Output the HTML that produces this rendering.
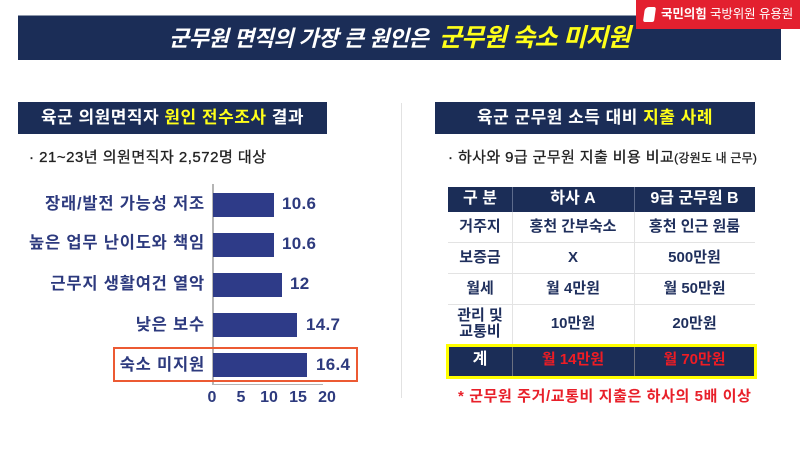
<!DOCTYPE html>
<html><head><meta charset="utf-8">
<style>
*{margin:0;padding:0;box-sizing:border-box;}
body{width:800px;height:450px;background:#fff;position:relative;overflow:hidden;font-family:"Liberation Sans","Noto Sans CJK KR",sans-serif;font-weight:bold;}
.a{position:absolute;white-space:nowrap;}
.navy{background:#1b2d57;}
.y{color:#ffff1a;}
.lab{position:absolute;right:595px;font-size:16.5px;color:#2d3a7e;line-height:20px;text-align:right;white-space:nowrap;letter-spacing:0.8px;}
.bar{position:absolute;left:213px;height:24px;background:#2e3b88;}
.val{position:absolute;font-size:17px;color:#2d3a7e;line-height:20px;font-family:"Liberation Sans",sans-serif;letter-spacing:0.3px;}
.tick{position:absolute;top:389px;font-size:16px;color:#2d3a7e;width:30px;text-align:center;line-height:18px;font-family:"Liberation Sans",sans-serif;}
.cell{position:absolute;text-align:center;font-size:15px;color:#1f2f5c;line-height:18px;white-space:nowrap;}
.hl{position:absolute;height:1px;background:#e3e3e3;left:448px;width:307px;}
.vl{position:absolute;width:1px;background:#e3e3e3;}
</style></head><body>

<!-- top banner -->
<div class="a navy" style="left:18px;top:15px;width:763px;height:45px;border-top:1px solid #8d97aa;"></div>
<div class="a" style="left:0;top:24px;width:800px;line-height:30px;font-style:italic;">
<span style="position:absolute;left:169px;top:0;font-size:22px;color:#fff;letter-spacing:-0.5px;">군무원 면직의 가장 큰 원인은</span>
<span style="position:absolute;left:439px;top:-1px;font-size:25px;letter-spacing:-0.7px;" class="y">군무원 숙소 미지원</span>
</div>

<!-- red badge -->
<div class="a" style="left:636px;top:0;width:164px;height:29px;background:#e3202f;"></div>
<div class="a" style="left:644px;top:7px;width:11px;height:15px;background:#fff;border-radius:4px 2px 2px 2px;transform:skewX(-8deg);"></div>
<div class="a" style="left:661px;top:6px;font-size:12.5px;color:#fff;line-height:16px;letter-spacing:-0.1px;">국민의힘 <span style="font-weight:normal;">국방위원 유용원</span></div>

<!-- left panel -->
<div class="a navy" style="left:18px;top:102px;width:309px;height:32px;"></div>
<div class="a" style="left:18px;top:107px;width:309px;text-align:center;font-size:17px;color:#fff;line-height:22px;letter-spacing:0.5px;">육군 의원면직자 <span class="y">원인 전수조사</span> 결과</div>
<div class="a" style="left:29px;top:149px;font-size:15px;color:#222;line-height:18px;font-weight:normal;-webkit-text-stroke:0.3px #222;letter-spacing:0.5px;">· 21~23년 의원면직자 2,572명 대상</div>

<!-- chart -->
<div class="a" style="left:212px;top:184px;width:1.5px;height:201px;background:#b5b5b5;"></div>
<div class="a" style="left:212px;top:383.5px;width:111px;height:1.5px;background:#b5b5b5;"></div>

<div class="lab" style="top:194px;">장래/발전 가능성 저조</div>
<div class="lab" style="top:233px;">높은 업무 난이도와 책임</div>
<div class="lab" style="top:274px;">근무지 생활여건 열악</div>
<div class="lab" style="top:315px;">낮은 보수</div>
<div class="lab" style="top:355px;">숙소 미지원</div>

<div class="bar" style="top:193px;width:61px;"></div>
<div class="bar" style="top:233px;width:61px;"></div>
<div class="bar" style="top:273px;width:69px;"></div>
<div class="bar" style="top:313px;width:84px;"></div>
<div class="bar" style="top:353px;width:94px;"></div>

<div class="val" style="left:282px;top:194px;">10.6</div>
<div class="val" style="left:282px;top:234px;">10.6</div>
<div class="val" style="left:290px;top:274px;">12</div>
<div class="val" style="left:306px;top:315px;">14.7</div>
<div class="val" style="left:316px;top:355px;">16.4</div>

<div class="a" style="left:113px;top:347px;width:245px;height:35px;border:2px solid #ec5a33;"></div>

<div class="tick" style="left:197px;">0</div>
<div class="tick" style="left:226px;">5</div>
<div class="tick" style="left:254px;">10</div>
<div class="tick" style="left:283px;">15</div>
<div class="tick" style="left:312px;">20</div>

<!-- divider -->
<div class="a" style="left:401px;top:103px;width:1px;height:295px;background:#e2e2e2;"></div>

<!-- right panel -->
<div class="a navy" style="left:435px;top:102px;width:320px;height:32px;"></div>
<div class="a" style="left:435px;top:107px;width:320px;text-align:center;font-size:17px;color:#fff;line-height:22px;letter-spacing:0.5px;">육군 군무원 소득 대비 <span class="y">지출 사례</span></div>
<div class="a" style="left:448px;top:149px;font-size:15px;color:#222;line-height:18px;font-weight:normal;-webkit-text-stroke:0.3px #222;letter-spacing:0.4px;">· 하사와 9급 군무원 지출 비용 비교<span style="font-size:12px;letter-spacing:0.2px;">(강원도 내 근무)</span></div>

<!-- table header -->
<div class="a navy" style="left:448px;top:187px;width:307px;height:25px;"></div>
<div class="a" style="left:512px;top:187px;width:1px;height:25px;background:#5d6b8c;"></div>
<div class="a" style="left:634px;top:187px;width:1px;height:25px;background:#5d6b8c;"></div>
<div class="cell" style="left:448px;top:190px;width:64px;color:#fff;font-size:16px;">구 분</div>
<div class="cell" style="left:512px;top:190px;width:122px;color:#fff;font-size:16px;">하사 A</div>
<div class="cell" style="left:634px;top:190px;width:121px;color:#fff;font-size:16px;">9급 군무원 B</div>

<!-- body lines -->
<div class="vl" style="left:512px;top:212px;height:132px;"></div>
<div class="vl" style="left:634px;top:212px;height:132px;"></div>
<div class="hl" style="top:242px;"></div>
<div class="hl" style="top:273px;"></div>
<div class="hl" style="top:304px;"></div>

<div class="cell" style="left:448px;top:218px;width:64px;">거주지</div>
<div class="cell" style="left:512px;top:218px;width:122px;">홍천 간부숙소</div>
<div class="cell" style="left:634px;top:218px;width:121px;">홍천 인근 원룸</div>

<div class="cell" style="left:448px;top:249px;width:64px;">보증금</div>
<div class="cell" style="left:512px;top:249px;width:122px;">X</div>
<div class="cell" style="left:634px;top:249px;width:121px;">500만원</div>

<div class="cell" style="left:448px;top:280px;width:64px;">월세</div>
<div class="cell" style="left:512px;top:280px;width:122px;">월 4만원</div>
<div class="cell" style="left:634px;top:280px;width:121px;">월 50만원</div>

<div class="cell" style="left:448px;top:308px;width:64px;line-height:16px;">관리 및<br>교통비</div>
<div class="cell" style="left:512px;top:315px;width:122px;">10만원</div>
<div class="cell" style="left:634px;top:315px;width:121px;">20만원</div>

<!-- total row -->
<div class="a navy" style="left:446px;top:344px;width:311px;height:35px;border:3px solid #ffff00;"></div>
<div class="a" style="left:512px;top:347px;width:1px;height:29px;background:#6b7080;"></div>
<div class="a" style="left:634px;top:347px;width:1px;height:29px;background:#6b7080;"></div>
<div class="cell" style="left:448px;top:351px;width:64px;color:#fff;font-size:16px;">계</div>
<div class="cell" style="left:512px;top:351px;width:122px;color:#ee1c24;font-size:15px;">월 14만원</div>
<div class="cell" style="left:634px;top:351px;width:121px;color:#ee1c24;font-size:15px;">월 70만원</div>

<div class="a" style="left:458px;top:388px;font-size:15px;color:#e8202a;line-height:18px;letter-spacing:0.6px;">* 군무원 주거/교통비 지출은 하사의 5배 이상</div>

</body></html>
